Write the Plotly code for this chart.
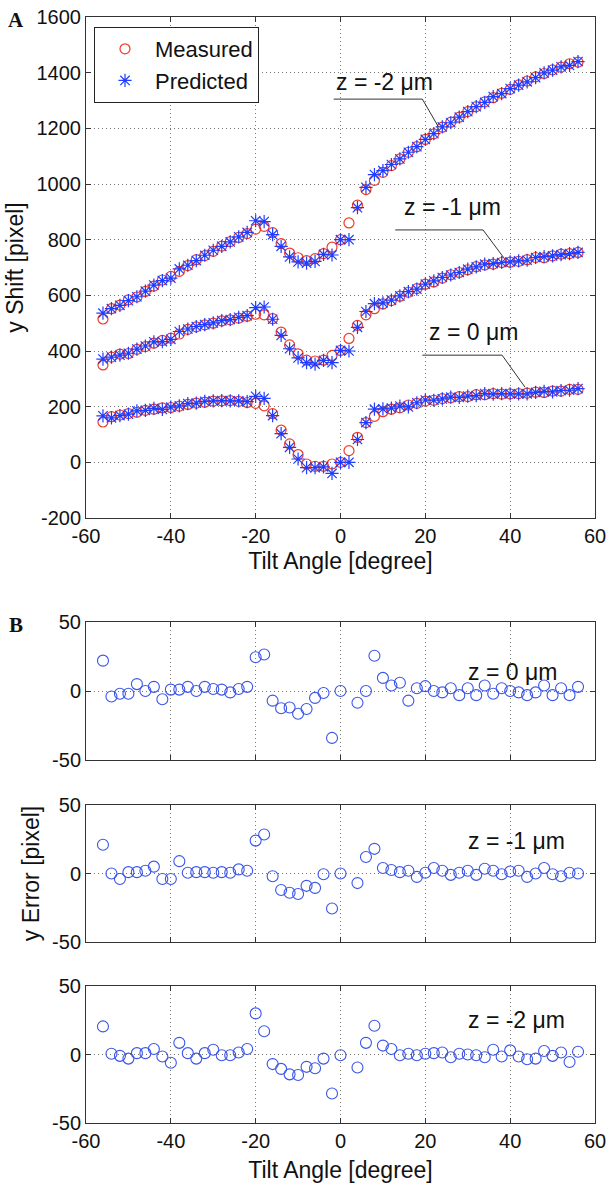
import plotly.graph_objects as go

# ---------------- data ----------------
tilt = [-56, -54, -52, -50, -48, -46, -44, -42, -40, -38, -36, -34, -32, -30, -28, -26, -24, -22,
        -20, -18, -16, -14, -12, -10, -8, -6, -4, -2,
        0, 2, 4, 6, 8, 10, 12, 14, 16, 18, 20, 22, 24, 26, 28, 30, 32, 34, 36, 38,
        40, 42, 44, 46, 48, 50, 52, 54, 56]

meas_z0 = [145, 164, 170, 175, 180, 187, 191, 196, 197, 202, 208, 213, 216, 220, 221, 222, 219, 215,
           212, 203, 175, 116, 66, 28, -6, -14, -14, -6,
           0, 42, 90, 143, 165, 182, 191, 196, 206, 212, 220, 223, 229, 232, 236, 236, 243, 243, 247, 245,
           246, 247, 249, 252, 251, 256, 256, 262, 262]
pred_z0 = [167, 160, 168, 173, 185, 187, 194, 190, 198, 203, 211, 213, 219, 221, 222, 221, 221, 218,
           237, 230, 168, 103, 54, 12, -19, -19, -16, -40,
           0, 0, 82, 143, 191, 192, 195, 202, 199, 214, 224, 223, 228, 234, 233, 238, 240, 247, 245, 247,
           246, 246, 246, 251, 255, 253, 258, 259, 265]

meas_z1 = [350, 378, 389, 391, 406, 416, 428, 438, 446, 461, 478, 487, 494, 500, 508, 512, 518, 525,
           532, 530, 516, 468, 422, 390, 367, 364, 367, 384,
           402, 445, 492, 530, 552, 569, 581, 597, 611, 624, 640, 648, 662, 674, 682, 692, 703, 709, 712, 718,
           719, 722, 728, 736, 735, 742, 748, 750, 754]
pred_z1 = [371, 378, 385, 392, 407, 418, 433, 434, 442, 470, 479, 488, 495, 501, 509, 513, 521, 527,
           556, 558, 514, 456, 408, 375, 358, 353, 366, 358,
           402, 400, 485, 542, 570, 573, 583, 598, 613, 622, 640, 652, 664, 673, 682, 694, 702, 712, 714, 718,
           720, 724, 726, 736, 739, 742, 746, 750, 754]

meas_z2 = [515, 552, 565, 584, 594, 614, 633, 655, 668, 686, 707, 728, 743, 758, 777, 793, 808, 822,
           838, 848, 825, 786, 752, 735, 725, 732, 750, 773,
           800, 860, 924, 980, 1013, 1042, 1066, 1090, 1114, 1134, 1160, 1180, 1204, 1222, 1240, 1260, 1278,
           1295, 1310, 1326, 1340, 1356, 1370, 1385, 1397, 1410, 1420, 1432, 1438]
pred_z2 = [536, 552, 564, 581, 595, 615, 637, 653, 662, 695, 708, 725, 744, 762, 776, 792, 810, 826,
           868, 865, 818, 776, 738, 720, 716, 722, 747, 745,
           800, 800, 915, 988, 1034, 1048, 1070, 1090, 1114, 1134, 1160, 1181, 1205, 1220, 1240, 1260, 1278,
           1293, 1314, 1325, 1343, 1355, 1367, 1382, 1399, 1409, 1421, 1426, 1440]

err_tilt = [-56, -54, -52, -50, -48, -46, -44, -42, -40, -38, -36, -34, -32, -30, -28, -26, -24, -22,
            -20, -18, -16, -14, -12, -10, -8, -6, -4, -2,
            0, 4, 6, 8, 10, 12, 14, 16, 18, 20, 22, 24, 26, 28, 30, 32, 34, 36, 38,
            40, 42, 44, 46, 48, 50, 52, 54, 56]
err_z0 = [22, -4, -2, -2, 5, 0, 3, -6, 1, 1, 3, 0, 3, 1.5, 1, -1, 1.5, 3,
          24.5, 26.5, -7, -12.5, -12, -16.5, -13, -5, -1.5, -34,
          0, -8.5, 0, 25.5, 9.5, 4, 6, -7, 2, 3.5, 0, -1, 2, -3, 2, -3, 4, -2, 2,
          0, -1, -3, -1, 4, -3, 2, -3, 3]
err_z1 = [21, 0, -4, 1, 1, 2, 5, -4, -4, 9, 0.5, 1, 1, 0.5, 1, 0.5, 3, 2,
          24, 28.5, -2, -12, -14, -15, -9, -10.5, -0.5, -25.5,
          0, -7, 12, 18, 4, 2.5, 1, 2, -2.5, 0.5, 4, 2, -1, 0.5, 2, -1, 3.5, 2, -0.5,
          1.5, 2, -2.5, 0, 4, -0.5, -2, 0.5, 0]
err_z2 = [20.5, 0.5, -1, -3, 1, 1, 4, -1.5, -6, 8.5, 1, -3, 1, 3.5, -0.5, -0.5, 1.5, 4,
          30, 17, -7, -10.5, -14.5, -15, -9, -10, -3, -28.5,
          -0.5, -9.5, 8.5, 21, 6.5, 4, -0.5, 0.5, -0.5, 0.5, 1, 1.5, -2, 0.5, 0, -0.5, -2, 3.5, -1.5,
          3, -1.5, -3.5, -3, 2.5, -1, 1.5, -5.5, 2]

x_ticks = [-60, -40, -20, 0, 20, 40, 60]
x_ticktext = ["-60", "-40", "-20", "0", "20", "40", "60"]
shift_ticks = [-200, 0, 200, 400, 600, 800, 1000, 1200, 1400, 1600]
shift_ticktext = ["-200", "0", "200", "400", "600", "800", "1000", "1200", "1400", "1600"]
err_ticks = [-50, 0, 50]
err_ticktext = ["-50", "0", "50"]

z_labels = ["z = 0 μm", "z = -1 μm", "z = -2 μm"]

# ---------------- style ----------------
W, H = 608, 1183
FONT = "Liberation Sans, Arial, sans-serif"
RED = "#f03a26"
BLUE = "#1f3cff"
EBLUE = "#3a55e8"
AX = "#333333"


def yd(py):
    return 1 - py / H


XDOM = [86 / W, 595 / W]

fig = go.Figure()

meas_list = [meas_z2, meas_z1, meas_z0]
pred_list = [pred_z2, pred_z1, pred_z0]
for i, m in enumerate(meas_list):
    fig.add_trace(go.Scatter(x=tilt, y=m, mode="markers", name="Measured", legendgroup="m",
                             showlegend=(i == 0), xaxis="x", yaxis="y",
                             marker=dict(symbol="circle-open", size=10, color=RED, line=dict(width=1.2, color=RED))))
for i, p in enumerate(pred_list):
    fig.add_trace(go.Scatter(x=tilt, y=p, mode="markers", name="Predicted", legendgroup="p",
                             showlegend=(i == 0), xaxis="x", yaxis="y",
                             marker=dict(symbol="asterisk-open", size=11, color=BLUE, line=dict(width=1.2, color=BLUE))))

for k, e in enumerate([err_z0, err_z1, err_z2]):
    fig.add_trace(go.Scatter(x=err_tilt, y=e, mode="markers", showlegend=False,
                             xaxis="x%d" % (k + 2), yaxis="y%d" % (k + 2),
                             marker=dict(symbol="circle-open", size=11, color=EBLUE, line=dict(width=1.1, color=EBLUE))))

axis_common = dict(showline=True, linecolor=AX, linewidth=1, mirror="ticks", ticks="inside", ticklen=5,
                   tickcolor=AX, showgrid=True, gridcolor="#777777", griddash="1px,3px", gridwidth=1,
                   zeroline=False, automargin=False,
                   tickfont=dict(family=FONT, size=20, color="#111"))

title_font = dict(family=FONT, size=23, color="#111")

layout = dict(
    width=W, height=H, margin=dict(l=0, r=0, t=0, b=0, autoexpand=False),
    paper_bgcolor="white", plot_bgcolor="white",
    showlegend=True,
    legend=dict(x=94 / W, y=yd(27), xanchor="left", yanchor="top", bgcolor="white",
                bordercolor="#222", borderwidth=1, font=dict(family=FONT, size=22, color="#111"),
                itemwidth=50, tracegroupgap=0),
)

# top plot
layout["xaxis"] = dict(axis_common, domain=XDOM, range=[-60, 60], tickvals=x_ticks, ticktext=x_ticktext,
                       anchor="y", title=dict(text="Tilt Angle [degree]", font=title_font, standoff=6))
layout["yaxis"] = dict(axis_common, domain=[yd(518), yd(17)], range=[-200, 1600], tickvals=shift_ticks,
                       ticktext=shift_ticktext, anchor="x",
                       title=dict(text="y Shift [pixel]", font=title_font, standoff=6))

bdoms = [[yd(760), yd(622)], [yd(942), yd(805)], [yd(1123), yd(986)]]
for k in range(3):
    n = k + 2
    xa = dict(axis_common, domain=XDOM, range=[-60, 60], tickvals=x_ticks, ticktext=x_ticktext,
              anchor="y%d" % n, showticklabels=(k == 2))
    if k == 2:
        xa["title"] = dict(text="Tilt Angle [degree]", font=title_font, standoff=10)
    ya = dict(axis_common, domain=bdoms[k], range=[-50, 50], tickvals=err_ticks, ticktext=err_ticktext,
              anchor="x%d" % n)
    if k == 1:
        ya["title"] = dict(text="y Error [pixel]", font=title_font, standoff=6)
    layout["xaxis%d" % n] = xa
    layout["yaxis%d" % n] = ya

fig.update_layout(**layout)

ann_font = dict(family=FONT, size=23, color="#111")
serif = dict(family="Liberation Serif, Times New Roman, serif", size=21, color="#111")
annotations = [
    dict(text="<b>A</b>", x=16 / W, y=yd(20), xref="paper", yref="paper", showarrow=False,
         xanchor="center", yanchor="middle", font=serif),
    dict(text="<b>B</b>", x=16 / W, y=yd(625), xref="paper", yref="paper", showarrow=False,
         xanchor="center", yanchor="middle", font=serif),
    dict(text=z_labels[2], x=10.4, y=1366, xref="x", yref="y", showarrow=False, font=ann_font),
    dict(text=z_labels[1], x=26.4, y=917, xref="x", yref="y", showarrow=False, font=ann_font),
    dict(text=z_labels[0], x=31.3, y=468, xref="x", yref="y", showarrow=False, font=ann_font),
    dict(text=z_labels[0], x=40.5, y=14, xref="x2", yref="y2", showarrow=False, font=ann_font),
    dict(text=z_labels[1], x=41.5, y=24, xref="x3", yref="y3", showarrow=False, font=ann_font),
    dict(text=z_labels[2], x=41.5, y=25, xref="x4", yref="y4", showarrow=False, font=ann_font),
]
fig.update_layout(annotations=annotations)

line_style = dict(color="#333", width=1)
shapes = [
    dict(type="line", xref="x", yref="y", x0=-1.6, y0=1305, x1=19.3, y1=1305, line=line_style),
    dict(type="line", xref="x", yref="y", x0=19.3, y0=1305, x1=23.1, y1=1205, line=line_style),
    dict(type="line", xref="x", yref="y", x0=12.9, y0=835, x1=33.6, y1=835, line=line_style),
    dict(type="line", xref="x", yref="y", x0=33.6, y0=835, x1=38.5, y1=735, line=line_style),
    dict(type="line", xref="x", yref="y", x0=19.3, y0=385, x1=38.1, y1=385, line=line_style),
    dict(type="line", xref="x", yref="y", x0=38.1, y0=385, x1=43.5, y1=270, line=line_style),
]
fig.update_layout(shapes=shapes)

fig.write_html("out.html", config={"displayModeBar": False},
               post_script="document.body.style.margin='0';document.body.style.overflow='hidden';")
